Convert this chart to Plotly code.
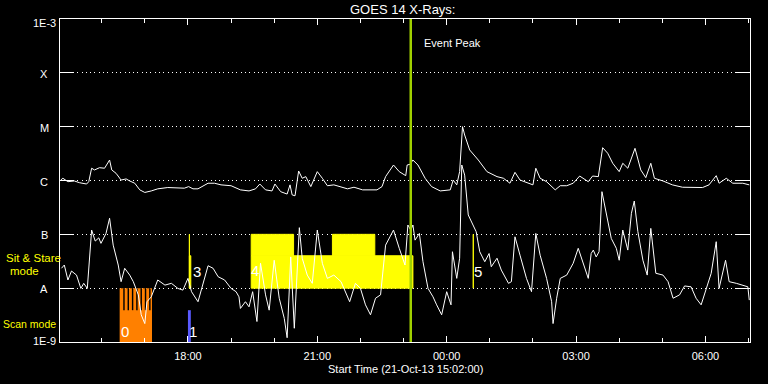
import numpy as np
import plotly.graph_objects as go

# ---------------- data ----------------
start_time = "15:02"
end_time = "07:02"
event_time = "23:10"

long_t = ["15:03","15:06","15:13","15:22","15:29","15:39","15:42","15:46","15:50","15:57",
          "16:04","16:09","16:11","16:14","16:20","16:27","16:34","16:39","16:46","16:53",
          "17:00","17:09","17:18","17:32","17:46","17:55","18:01","18:07","18:14","18:19",
          "18:28","18:37","18:46","19:00","19:07","19:13","19:25","19:34","19:40","19:48",
          "19:57","20:01","20:09","20:18","20:22","20:25","20:29","20:34","20:39","20:44",
          "20:51","21:00","21:07","21:14","21:23","21:33","21:42","21:51","22:03","22:23",
          "22:30","22:35","22:46","22:54","23:03","23:05","23:09","23:13","23:20","23:30",
          "23:39","23:51","00:05","00:09","00:14","00:18","00:22","00:25","00:32","00:44",
          "00:56","01:10","01:19","01:28","01:35","01:42","01:54","02:00","02:04","02:10",
          "02:19","02:31","02:38","02:47","02:56","03:05","03:17","03:23","03:31","03:37",
          "03:44","03:51","04:00","04:05","04:12","04:22","04:30","04:37","04:44","04:49",
          "05:01","05:14","05:28","05:56","06:05","06:15","06:19","06:29","06:38","06:52",
          "07:01"]
long_flux = [1.02e-6,1.10e-6,0.95e-6,0.98e-6,0.91e-6,0.86e-6,0.95e-6,1.69e-6,1.57e-6,1.73e-6,
             1.69e-6,2.24e-6,2.40e-6,1.57e-6,1.36e-6,1.02e-6,1.07e-6,0.98e-6,0.89e-6,0.67e-6,
             0.60e-6,0.64e-6,0.70e-6,0.74e-6,0.74e-6,0.72e-6,0.77e-6,0.70e-6,0.70e-6,0.77e-6,
             0.89e-6,0.89e-6,0.83e-6,0.80e-6,0.74e-6,0.67e-6,0.64e-6,0.70e-6,0.86e-6,0.67e-6,
             0.64e-6,0.86e-6,0.62e-6,0.56e-6,0.83e-6,0.54e-6,0.52e-6,1.50e-6,1.10e-6,1.18e-6,
             0.77e-6,1.46e-6,1.10e-6,0.80e-6,0.83e-6,0.75e-6,0.70e-6,0.75e-6,0.67e-6,0.67e-6,
             0.77e-6,1.18e-6,1.94e-6,1.46e-6,1.23e-6,1.94e-6,2.00e-6,2.40e-6,1.94e-6,1.10e-6,
             0.77e-6,0.64e-6,0.67e-6,1.02e-6,0.83e-6,1.46e-6,1.00e-5,7.0e-6,3.69e-6,2.40e-6,
             1.46e-6,1.18e-6,1.10e-6,0.89e-6,1.42e-6,1.02e-6,0.89e-6,0.83e-6,1.69e-6,1.10e-6,
             0.95e-6,0.67e-6,0.80e-6,0.80e-6,0.89e-6,1.21e-6,0.95e-6,1.21e-6,1.18e-6,4.07e-6,
             3.21e-6,2.09e-6,1.46e-6,2.09e-6,1.69e-6,3.96e-6,1.57e-6,1.13e-6,2.09e-6,1.10e-6,
             0.98e-6,0.83e-6,0.75e-6,0.74e-6,0.83e-6,1.23e-6,0.89e-6,1.10e-6,0.89e-6,0.89e-6,
             0.83e-6]

short_t = ["15:04","15:08","15:13","15:18","15:25","15:31","15:35","15:40","15:46","15:51",
           "15:56","15:59","16:06","16:11","16:16","16:23","16:27","16:32","16:39","16:44",
           "16:51","16:55","17:00","17:03","17:09","17:18","17:28","17:37","17:46","17:53",
           "18:00","18:05","18:14","18:19","18:28","18:35","18:42","18:51","19:00","19:07",
           "19:11","19:13","19:20","19:25","19:30","19:36","19:41","19:48","19:53","20:00",
           "20:07","20:14","20:18","20:23","20:28","20:35","20:39","20:46","20:53","21:00",
           "21:07","21:14","21:23","21:33","21:45","21:53","22:00","22:07","22:14","22:21",
           "22:28","22:35","22:46","22:54","23:02","23:06","23:10","23:13","23:16","23:22",
           "23:27","23:34","23:41","23:46","23:53","00:00","00:06","00:08","00:14","00:18",
           "00:21","00:25","00:30","00:41","00:46","00:53","00:59","01:02","01:10","01:16",
           "01:26","01:30","01:35","01:42","01:51","01:58","02:04","02:10","02:19","02:26",
           "02:28","02:33","02:38","02:47","02:56","03:03","03:10","03:17","03:21","03:24",
           "03:28","03:32","03:36","03:42","03:49","03:56","04:00","04:05","04:12","04:17",
           "04:21","04:26","04:33","04:39","04:44","04:51","05:01","05:08","05:15","05:24",
           "05:31","05:40","05:47","05:54","06:01","06:08","06:15","06:19","06:28","06:33",
           "06:43","06:52","06:59","07:01"]
short_flux = [2.34e-8,2.69e-8,1.42e-8,2.08e-8,1.75e-8,0.99e-8,1.23e-8,0.99e-8,1.20e-7,7.5e-8,
              8.6e-8,6.8e-8,1.04e-7,1.99e-7,6.3e-8,2.69e-8,1.32e-8,2.34e-8,1.75e-8,1.32e-8,
              7.5e-9,3.2e-9,2.2e-9,5.6e-9,6.9e-9,1.42e-8,1.14e-8,1.23e-8,0.99e-8,0.92e-8,
              1.52e-8,0.86e-8,5.6e-9,0.99e-8,2.61e-8,2.34e-8,1.63e-8,1.42e-8,0.99e-8,0.86e-8,
              6.9e-9,4.2e-9,5.6e-9,4.5e-9,0.86e-8,2.4e-9,2.9e-8,7.5e-9,3.9e-9,3.3e-8,
              6.5e-9,2.75e-9,1.2e-9,3.8e-8,1.8e-9,1.33e-7,3.6e-8,1.75e-8,1.23e-8,1.20e-7,
              2.9e-8,1.52e-8,1.75e-8,1.32e-8,5.6e-9,1.23e-8,0.99e-8,4.9e-9,3.2e-9,6.5e-9,
              7.5e-9,6.3e-8,1.20e-7,5.5e-8,2.69e-8,1.49e-7,1.20e-7,1.49e-7,7.8e-8,1.04e-7,
              3.1e-8,0.99e-8,6.9e-9,4.9e-9,3.2e-9,0.86e-8,4.9e-9,4.75e-8,1.52e-8,3.6e-8,
              1.94e-6,1.26e-6,2.29e-7,1.12e-7,4.75e-8,3.1e-8,4.4e-8,2.5e-8,3.6e-8,2.17e-8,
              1.23e-8,1.32e-8,9.0e-8,4.1e-8,1.52e-8,0.86e-8,1.04e-7,4.1e-8,1.52e-8,5.6e-9,
              2.2e-9,6.5e-9,1.52e-8,1.75e-8,2.9e-8,5.5e-8,2.9e-8,1.52e-8,4.4e-8,5.1e-8,
              3.8e-8,4.75e-8,6.2e-7,2.29e-7,8.4e-8,5.5e-8,3.3e-8,1.20e-7,5.1e-8,2.46e-7,
              4.16e-7,1.12e-7,3.3e-8,1.75e-8,1.29e-7,1.89e-8,1.75e-8,1.32e-8,6.5e-9,7.5e-9,
              1.10e-8,1.06e-8,6.5e-9,4.9e-9,0.99e-8,1.89e-8,7.3e-8,0.99e-8,3.3e-8,1.32e-8,
              1.23e-8,1.14e-8,1.06e-8,6.0e-9]

# Sit & Stare mode intervals (start, end, low, high)
stare_start = ["18:02", "18:02", "19:28", "19:28", "21:21", "00:37"]
stare_end = ["18:02", "18:04", "23:13", "20:27", "22:20", "00:37"]
stare_low = [1e-8, 1e-8, 1e-8, 4e-8, 4e-8, 1e-8]
stare_high = [1e-7, 4e-8, 4e-8, 1e-7, 1e-7, 1e-7]

# Scan mode intervals
scan0_start, scan0_end, scan0_low, scan0_high = "16:25", "17:10", 1e-9, 1e-8
scan0_gap_start = ["16:30", "16:36", "16:42", "16:48", "16:54", "17:00", "17:06"]
scan0_gap_len_min = 2
scan0_gap_low, scan0_gap_high = 3.9e-9, 1e-8
scan1_start, scan1_end, scan1_low, scan1_high = "18:00", "18:04", 1e-9, 3.9e-9

# observation labels
obs_label = ["0", "1", "3", "4", "5"]
obs_time = ["16:32", "18:07", "18:13", "19:33", "00:43"]
obs_flux = [1.55e-9, 1.55e-9, 2.0e-8, 2.17e-8, 2.0e-8]

# axis ticks
y_tickvals = [1e-9, 1e-8, 1e-7, 1e-6, 1e-5, 1e-4, 1e-3]
y_ticktext = ["1E-9", "A", "B", "C", "M", "X", "1E-3"]
y_label_shift = [1.5, -1, -1, -1.5, -1.5, -1, -4]
x_tick_times = ["18:00", "21:00", "00:00", "03:00", "06:00"]
x_ticktext = ["18:00", "21:00", "00:00", "03:00", "06:00"]


def to_dt(hhmm):
    h = int(hhmm[:2])
    day = 21 if h >= 15 else 22
    return np.datetime64(f"2013-10-{day}T{hhmm}")


def dts(lst):
    return [str(to_dt(s)) for s in lst]


FONT = "Liberation Sans"
YELLOW = "#ffff00"
ORANGE = "#ff8000"
BLUE = "#5a5aff"
GREEN = "#a0d000"

fig = go.Figure()


def rect(t0, t1, lo, hi, color, width=1):
    fig.add_trace(go.Scatter(
        x=[str(t0), str(t1), str(t1), str(t0), str(t0)],
        y=[lo, lo, hi, hi, lo],
        mode="lines", fill="toself", fillcolor=color,
        line=dict(color=color, width=width),
        hoverinfo="skip", showlegend=False))


# scan mode boxes
rect(to_dt(scan0_start), to_dt(scan0_end), scan0_low, scan0_high, ORANGE, 0)
for g in scan0_gap_start:
    t0 = to_dt(g)
    t1 = t0 + np.timedelta64(scan0_gap_len_min, "m")
    rect(t0, t1, scan0_gap_low, scan0_gap_high, "#000000", 0)
rect(to_dt(scan1_start), to_dt(scan1_end), scan1_low, scan1_high, BLUE, 0)

# sit & stare boxes
for s, e, lo, hi in zip(stare_start, stare_end, stare_low, stare_high):
    rect(to_dt(s), to_dt(e), lo, hi, YELLOW, 1)

# X-ray curves
fig.add_trace(go.Scatter(x=dts(long_t), y=long_flux, mode="lines",
                         line=dict(color="white", width=1), showlegend=False, hoverinfo="skip"))
fig.add_trace(go.Scatter(x=dts(short_t), y=short_flux, mode="lines",
                         line=dict(color="white", width=1), showlegend=False, hoverinfo="skip"))

# event peak line
ev = str(to_dt(event_time))
fig.add_trace(go.Scatter(x=[ev, ev], y=[1e-9, 1e-3], mode="lines",
                         line=dict(color=GREEN, width=2.5), showlegend=False, hoverinfo="skip"))

annotations = []
for txt, t, f in zip(obs_label, obs_time, obs_flux):
    annotations.append(dict(x=str(to_dt(t)), y=np.log10(f), xref="x", yref="y", text=txt,
                            showarrow=False, font=dict(family=FONT, size=15, color="white"),
                            xanchor="center", yanchor="middle"))

L, R, T, B = 60, 18, 19, 42
W, H = 768, 384
pw, ph = W - L - R, H - T - B


def px_x(x):
    return (x - L) / pw


def px_y(y):
    return (H - B - y) / ph


for v, txt, sh in zip(y_tickvals, y_ticktext, y_label_shift):
    annotations.append(dict(x=px_x(44), y=np.log10(v), xref="paper", yref="y", text=txt,
                            showarrow=False, yshift=sh,
                            font=dict(family=FONT, size=11, color="white"),
                            xanchor="center", yanchor="middle"))

annotations += [
    dict(x=px_x(402), y=px_y(10), xref="paper", yref="paper", text="GOES 14 X-Rays:",
         showarrow=False, font=dict(family=FONT, size=13, color="white"),
         xanchor="center", yanchor="middle"),
    dict(x=ev, y=px_y(43), xref="x", yref="paper", text="Event Peak", xshift=11,
         showarrow=False, font=dict(family=FONT, size=11, color="white"),
         xanchor="left", yanchor="middle"),
    dict(x=px_x(405), y=px_y(368.5), xref="paper", yref="paper",
         text="Start Time (21-Oct-13 15:02:00)",
         showarrow=False, font=dict(family=FONT, size=11, color="white"),
         xanchor="center", yanchor="middle"),
    dict(x=px_x(33), y=px_y(258), xref="paper", yref="paper", text="Sit & Stare",
         showarrow=False, font=dict(family=FONT, size=11.5, color=YELLOW),
         xanchor="center", yanchor="middle", borderpad=0),
    dict(x=px_x(24.5), y=px_y(271), xref="paper", yref="paper", text="mode",
         showarrow=False, font=dict(family=FONT, size=11.5, color=YELLOW),
         xanchor="center", yanchor="middle", borderpad=0),
    dict(x=px_x(29), y=px_y(324), xref="paper", yref="paper", text="Scan mode",
         showarrow=False, font=dict(family=FONT, size=10.5, color=YELLOW),
         xanchor="center", yanchor="middle", borderpad=0),
]

fig.update_layout(
    width=W, height=H, autosize=False,
    margin=dict(l=L, r=R, t=T, b=B, pad=0),
    paper_bgcolor="black", plot_bgcolor="black",
    showlegend=False,
    annotations=annotations,
    xaxis=dict(
        type="date",
        range=[str(to_dt(start_time)), str(to_dt(end_time))],
        showline=True, linecolor="white", linewidth=1, mirror="allticks",
        ticks="inside", ticklen=6, tickcolor="white", tickwidth=1,
        tickvals=dts(x_tick_times), ticktext=x_ticktext,
        tickfont=dict(family=FONT, size=11, color="white"),
        ticklabelstandoff=4,
        minor=dict(ticks="inside", ticklen=4, tickcolor="white", dtick=3600000, showgrid=False),
        showgrid=False, zeroline=False,
    ),
    yaxis=dict(
        type="log", range=[-9, -3],
        showline=True, linecolor="white", linewidth=1, mirror="allticks",
        ticks="inside", ticklen=14, tickcolor="white", tickwidth=1,
        tickvals=y_tickvals, showticklabels=False,
        showgrid=True, gridcolor="white", gridwidth=1, griddash="1px,3.3px",
        zeroline=False,
    ),
)

fig.write_html("out.html")
